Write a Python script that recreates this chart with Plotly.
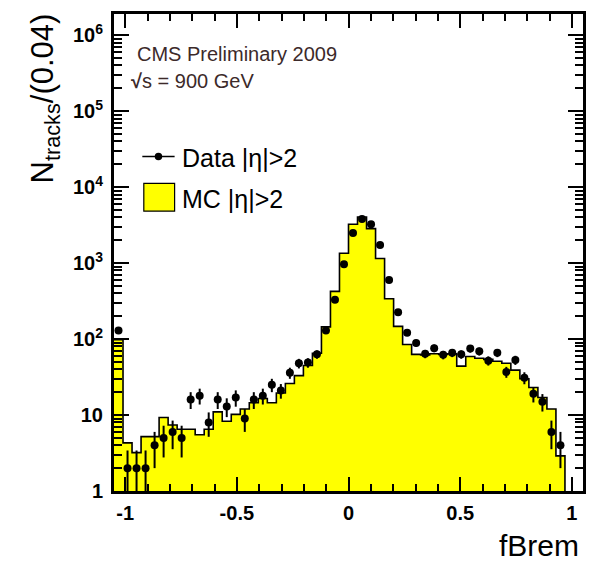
import numpy as np
import plotly.graph_objects as go

# ---- histogram definition ----
x_min, x_max, n_bins = -1.05, 1.05, 52

# MC |eta|>2 (per bin, 52 bins)
mc_counts = [98, 4.3, 3.2, 5.2, 5.2, 9.3, 7.4, 6.5, 6.5, 5.5,
             6.5, 11, 8.3, 10.2, 12, 14.5, 16.5, 14.5, 19.5, 26,
             33, 45, 65, 145, 425, 1350, 3250, 4050, 2850, 1150,
             340, 147, 85, 63, 62, 64, 63, 64, 44, 59,
             56, 54, 51, 48, 39, 30, 23, 17, 12, 2.9,
             0, 0]

# Data |eta|>2 (per bin, first 50 bins filled)
data_counts = [130, 2, 2, 2, 4, 5, 6, 5, 16, 18,
               8, 16, 13, 17, 9, 16, 18, 25, 21, 36,
               48, 49, 63, 130, 330, 970, 2500, 3800, 3250, 1730,
               600, 226, 121, 89, 64, 76, 62, 66, 63, 75,
               69, 52, 66, 37, 53, 31, 19, 15, 6, 4]

x_tick_vals = [-1, -0.5, 0, 0.5, 1]
x_tick_text = ["-1", "-0.5", "0", "0.5", "1"]
y_tick_vals = [1, 10, 100, 1e3, 1e4, 1e5, 1e6]
y_tick_text = ["1", "10", "10<sup>2</sup>", "10<sup>3</sup>", "10<sup>4</sup>",
               "10<sup>5</sup>", "10<sup>6</sup>"]

FONT = "Liberation Sans, Arial, Helvetica, sans-serif"

edges = np.linspace(x_min, x_max, n_bins + 1)
centers = 0.5 * (edges[:-1] + edges[1:])
bw = edges[1] - edges[0]

mc = np.array(mc_counts, dtype=float)
nz = mc > 0
last = int(np.where(nz)[0][-1])

fig = go.Figure()

# MC filled histogram
fig.add_trace(go.Bar(x=centers[nz], y=mc[nz], width=bw,
                     marker=dict(color="#ffff00", line=dict(width=0)),
                     hoverinfo="skip"))

# MC outline (step)
sx = list(edges[:last + 1]) + [edges[last + 1], edges[last + 1]]
sy = list(mc[:last + 1]) + [mc[last], 1e-3]
fig.add_trace(go.Scatter(x=sx, y=sy, mode="lines", line_shape="hv",
                         line=dict(color="black", width=1.6),
                         hoverinfo="skip"))

# Data points
d = np.array(data_counts, dtype=float)
fig.add_trace(go.Scatter(x=centers[:len(d)], y=d, mode="markers",
                         marker=dict(color="black", size=8),
                         error_y=dict(type="data", array=np.sqrt(d),
                                      thickness=2, width=0, color="black")))

L, R, T, B = 114, 11, 12, 71
W, H = 597, 562
pw, ph = W - L - R, H - T - B


def px(xp):
    return (xp - L) / pw


def py(yp):
    return (T + ph - yp) / ph


# minor tick positions
x_minor = [round(v, 2) for v in np.arange(-1.0, 1.0001, 0.1)
           if round(v, 2) not in x_tick_vals]
y_minor = [m * 10 ** e for e in range(0, 7) for m in range(2, 10)]

fig.update_layout(
    width=W, height=H,
    margin=dict(l=L, r=R, t=T, b=B),
    paper_bgcolor="white", plot_bgcolor="white",
    showlegend=False, bargap=0,
    font=dict(family=FONT, color="black"),
    xaxis=dict(range=[x_min, x_max], tickmode="array",
               tickvals=x_tick_vals, ticktext=x_tick_text,
               ticks="inside", ticklen=14, tickwidth=2, tickcolor="black",
               minor=dict(tickmode="array", tickvals=x_minor, ticks="inside",
                          ticklen=7, tickwidth=2, tickcolor="black", showgrid=False),
               showline=True, linewidth=3, linecolor="black", mirror="ticks",
               showgrid=False, zeroline=False,
               tickfont=dict(size=20, family=FONT, weight="bold"),
               ticklabelstandoff=2),
    yaxis=dict(type="log", range=[0, 6.28], tickmode="array",
               tickvals=y_tick_vals, ticktext=y_tick_text,
               ticks="inside", ticklen=15, tickwidth=2, tickcolor="black",
               minor=dict(tickmode="array", tickvals=y_minor, ticks="inside",
                          ticklen=8, tickwidth=2, tickcolor="black", showgrid=False),
               showline=True, linewidth=3, linecolor="black", mirror="ticks",
               showgrid=False, zeroline=False,
               tickfont=dict(size=20, family=FONT, weight="bold"),
               ticklabelstandoff=4),
)

ann = []
ann.append(dict(text="N<sub>tracks</sub>/(0.04)", textangle=-90,
                xref="paper", yref="paper", x=px(45), y=py(9),
                xanchor="center", yanchor="top", showarrow=False,
                font=dict(size=31, family=FONT, color="black")))
ann.append(dict(text="fBrem", xref="paper", yref="paper", x=px(584), y=py(546),
                xanchor="right", yanchor="middle", showarrow=False,
                font=dict(size=30, family=FONT, color="black")))
ann.append(dict(text="CMS Preliminary 2009", xref="paper", yref="paper",
                x=px(135), y=py(52), xanchor="left", yanchor="middle",
                showarrow=False, font=dict(size=20, family=FONT, color="#3c2a2a")))
ann.append(dict(text="<b>√</b>s = 900 GeV", xref="paper", yref="paper",
                x=px(129), y=py(79), xanchor="left", yanchor="middle",
                showarrow=False, font=dict(size=20, family=FONT, color="#3c2a2a")))
ann.append(dict(text="Data |η|>2", xref="paper", yref="paper",
                x=px(180), y=py(157), xanchor="left", yanchor="middle",
                showarrow=False, font=dict(size=25, family=FONT, color="black")))
ann.append(dict(text="MC |η|>2", xref="paper", yref="paper",
                x=px(180), y=py(198), xanchor="left", yanchor="middle",
                showarrow=False, font=dict(size=25, family=FONT, color="black")))
fig.update_layout(annotations=ann)

# legend glyphs (decoration, paper coordinates)
shapes = []
shapes.append(dict(type="line", xref="paper", yref="paper",
                   x0=px(142.5), x1=px(175), y0=py(155), y1=py(155),
                   line=dict(color="black", width=1.5)))
shapes.append(dict(type="circle", xref="paper", yref="paper",
                   x0=px(155), x1=px(162.5), y0=py(151.3), y1=py(158.8),
                   fillcolor="black", line=dict(color="black", width=0)))
shapes.append(dict(type="rect", xref="paper", yref="paper",
                   x0=px(144), x1=px(175), y0=py(182), y1=py(210),
                   fillcolor="#ffff00", line=dict(color="black", width=1.2)))
fig.update_layout(shapes=shapes)

fig.write_html("out.html")
